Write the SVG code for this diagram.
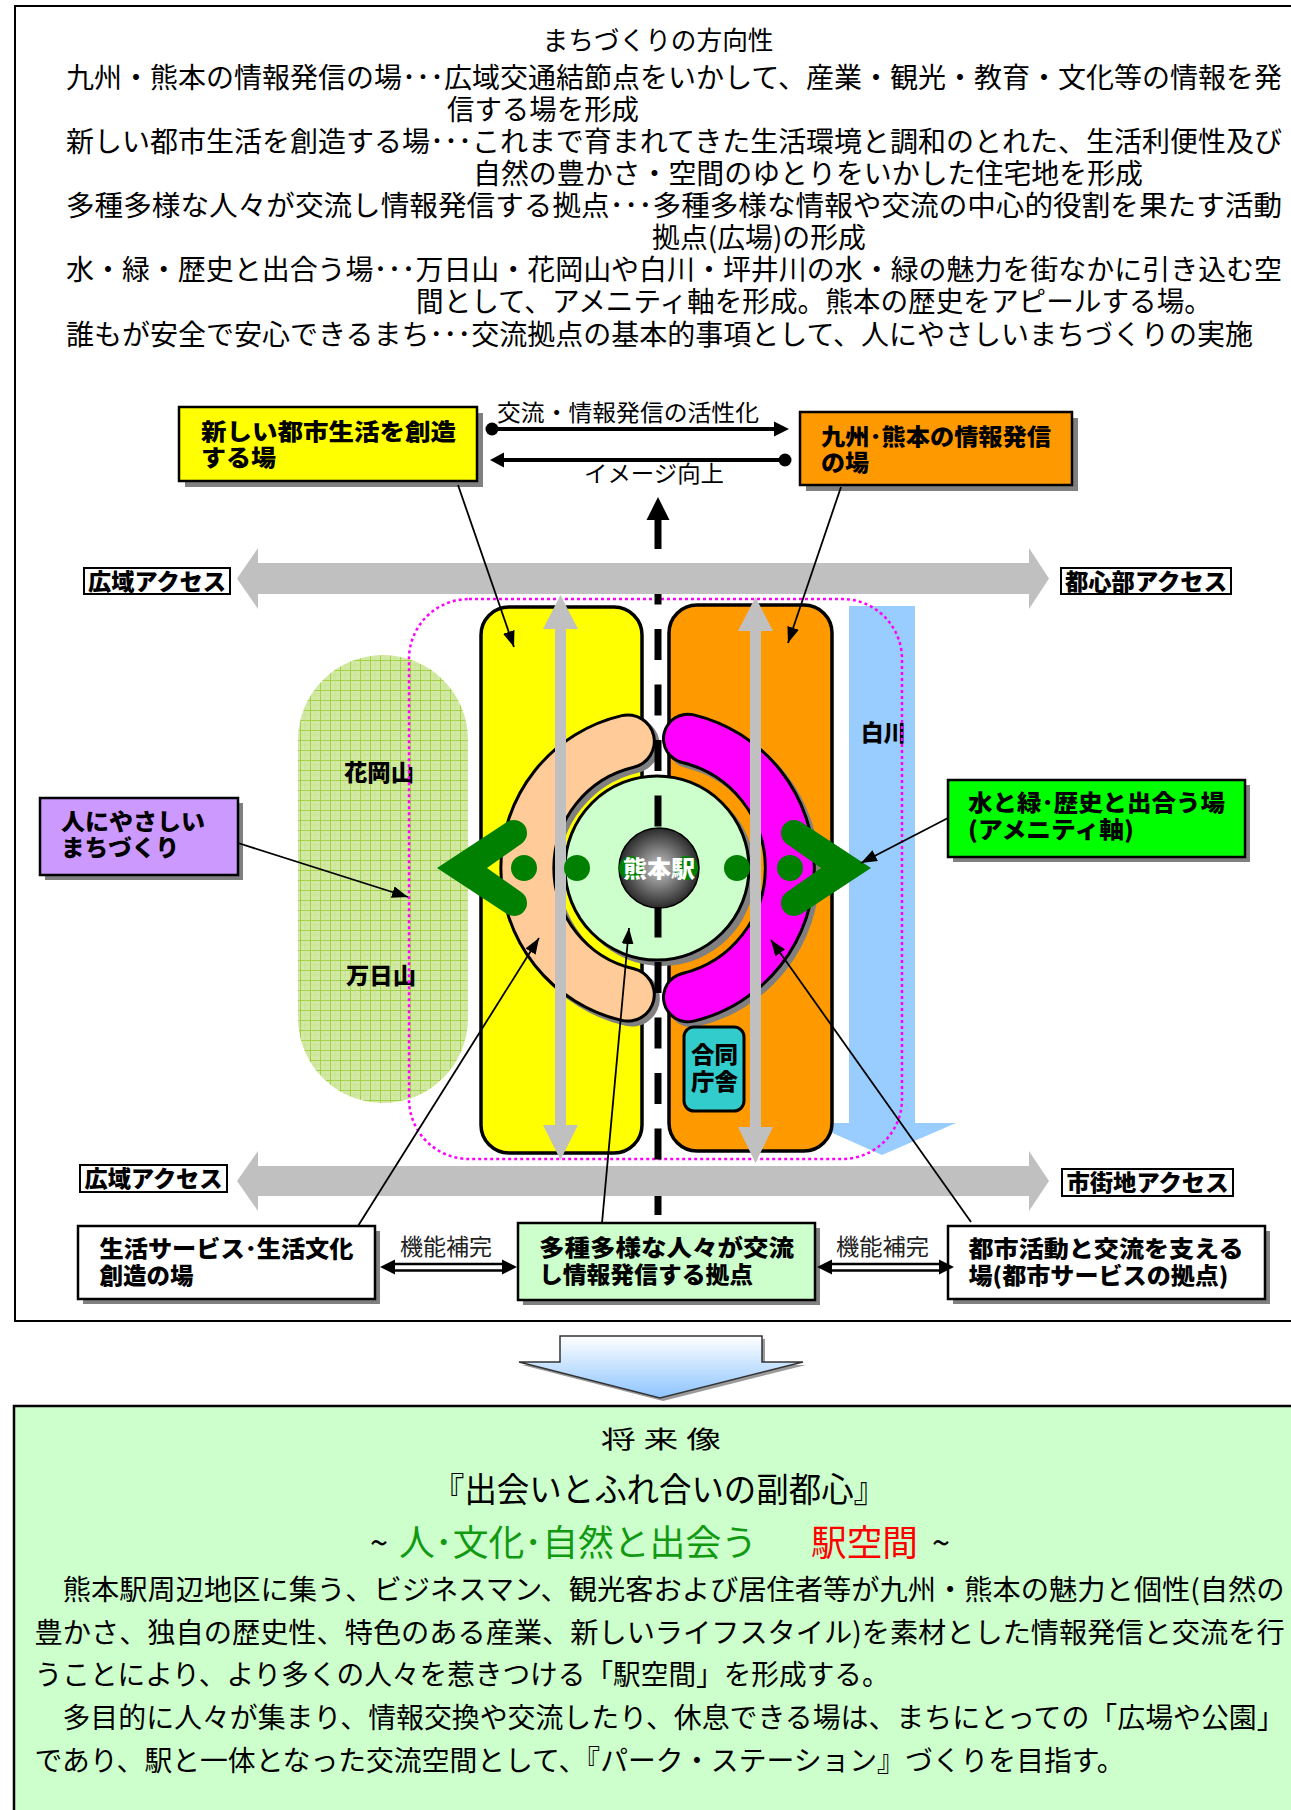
<svg xmlns="http://www.w3.org/2000/svg" width="1291" height="1810" viewBox="0 0 1291 1810">
<defs>
<style>
text{font-family:"Noto Sans CJK JP","Noto Sans CJK SC",sans-serif;fill:#000;}
.p{font-size:28px;}
.b{font-weight:900;font-size:23px;}
.bx{stroke:#000;stroke-width:2.5;}
.sh{fill:#808080;}
.lbl{fill:#fff;stroke:#000;stroke-width:2;}
.cl{stroke:#000;stroke-width:1.8;fill:none;marker-end:url(#ah);}
.sm{font-size:23px;fill:#222;}
</style>
<marker id="ah" markerUnits="userSpaceOnUse" markerWidth="18" markerHeight="14" refX="16" refY="6" orient="auto">
<path d="M0 0L16 6L0 12Z" fill="#000"/>
</marker>
<pattern id="grid" width="10" height="10" patternUnits="userSpaceOnUse">
<rect width="10" height="10" fill="#D3EAA6"/>
<path d="M0 0.5H10M0.5 0V10" stroke="#A3D044" stroke-width="1"/>
<path d="M0 5H10M5 0V10" stroke="#C2E082" stroke-width="0.6"/>
</pattern>
<radialGradient id="ball" cx="50%" cy="50%" r="50%">
<stop offset="0" stop-color="#c8c8c8"/>
<stop offset="1" stop-color="#2a2a2a"/>
</radialGradient>
<linearGradient id="down" x1="0" y1="0" x2="0" y2="1">
<stop offset="0" stop-color="#ffffff"/>
<stop offset="1" stop-color="#8CC4FF"/>
</linearGradient>
</defs>
<rect width="1291" height="1810" fill="#fff"/>

<g id="frame-top">
<rect x="15" y="6" width="1300" height="1315" fill="none" stroke="#000" stroke-width="2"/>
</g>

<g id="direction-text" class="p">
<text x="658" y="50" font-size="26" text-anchor="middle" textLength="231" lengthAdjust="spacingAndGlyphs">まちづくりの方向性</text>
<text x="66" y="88" textLength="1216" lengthAdjust="spacingAndGlyphs">九州・熊本の情報発信の場･･･広域交通結節点をいかして、産業・観光・教育・文化等の情報を発</text>
<text x="447" y="120" textLength="192" lengthAdjust="spacingAndGlyphs">信する場を形成</text>
<text x="66" y="152" textLength="1216" lengthAdjust="spacingAndGlyphs">新しい都市生活を創造する場･･･これまで育まれてきた生活環境と調和のとれた、生活利便性及び</text>
<text x="473" y="184" textLength="670" lengthAdjust="spacingAndGlyphs">自然の豊かさ・空間のゆとりをいかした住宅地を形成</text>
<text x="66" y="216" textLength="1216" lengthAdjust="spacingAndGlyphs">多種多様な人々が交流し情報発信する拠点･･･多種多様な情報や交流の中心的役割を果たす活動</text>
<text x="652" y="248" textLength="214" lengthAdjust="spacingAndGlyphs">拠点(広場)の形成</text>
<text x="66" y="280" textLength="1216" lengthAdjust="spacingAndGlyphs">水・緑・歴史と出合う場･･･万日山・花岡山や白川・坪井川の水・緑の魅力を街なかに引き込む空</text>
<text x="416" y="312" textLength="796" lengthAdjust="spacingAndGlyphs">間として、アメニティ軸を形成。熊本の歴史をアピールする場。</text>
<text x="66" y="345" textLength="1187" lengthAdjust="spacingAndGlyphs">誰もが安全で安心できるまち･･･交流拠点の基本的事項として、人にやさしいまちづくりの実施</text>
</g>

<g id="hills">
<rect x="298" y="655" width="170" height="448" rx="85" fill="url(#grid)"/>
<text class="b" x="344" y="781" textLength="70" lengthAdjust="spacingAndGlyphs">花岡山</text>
<text class="b" x="346" y="984" textLength="70" lengthAdjust="spacingAndGlyphs">万日山</text>
</g>

<g id="shirakawa">
<path d="M849 606H915V1123H956L882 1155L810 1123H849Z" fill="#99CCFF"/>
<text class="b" x="861" y="741" textLength="45" lengthAdjust="spacingAndGlyphs">白川</text>
</g>

<g id="area-dotted">
<rect x="409" y="599" width="493" height="560" rx="60" fill="none" stroke="#FF00FF" stroke-width="2.5" stroke-dasharray="3 3"/>
</g>

<g id="columns">
<rect x="481" y="607" width="161" height="546" rx="28" fill="#FFFF00" stroke="#000" stroke-width="3.5"/>
<rect x="669" y="605" width="163" height="546" rx="28" fill="#FF9900" stroke="#000" stroke-width="3.5"/>
</g>

<g id="rings">
<path d="M627.8 741.4A130 130 0 0 0 627.8 994.6" transform="translate(4 4)" fill="none" stroke="#808080" stroke-width="56" stroke-linecap="round"/>
<path d="M627.8 741.4A130 130 0 0 0 627.8 994.6" fill="none" stroke="#000" stroke-width="56" stroke-linecap="round"/>
<path d="M627.8 741.4A130 130 0 0 0 627.8 994.6" fill="none" stroke="#FFCC99" stroke-width="50" stroke-linecap="round"/>
<path d="M688 738.7A133 133 0 0 1 688 997.3" transform="translate(4 4)" fill="none" stroke="#808080" stroke-width="52" stroke-linecap="round"/>
<path d="M688 738.7A133 133 0 0 1 688 997.3" fill="none" stroke="#000" stroke-width="52" stroke-linecap="round"/>
<path d="M688 738.7A133 133 0 0 1 688 997.3" fill="none" stroke="#FF00FF" stroke-width="46" stroke-linecap="round"/>
</g>

<g id="hub-circle">
<circle cx="662" cy="873" r="93" fill="#808080"/>
<circle cx="657" cy="868" r="92" fill="#CCFFCC" stroke="#000" stroke-width="3"/>
</g>

<g id="rail">
<path d="M658 497L669.5 520H646.5Z" fill="#000"/>
<line x1="658" y1="518" x2="658" y2="1222" stroke="#000" stroke-width="7" stroke-dasharray="31 24.5"/>
</g>

<g id="gray-arrows">
<path d="M560.5 595L578 629H566V1125H578L560.5 1160L543 1125H555V629H543Z" fill="#C0C0C0"/>
<path d="M755.5 597L773 631H761V1127H773L755.5 1163L738 1127H750V631H738Z" fill="#C0C0C0"/>
<path d="M237 578.5L258 548V563H1029V548L1049 578.5L1029 609V594H258V609Z" fill="#C0C0C0"/>
<path d="M237 1181L258 1151V1166H1029V1151L1049 1181L1029 1211V1196H258V1211Z" fill="#C0C0C0"/>
</g>

<g id="station">
<circle cx="659" cy="868" r="40" fill="url(#ball)" stroke="#000" stroke-width="1.5"/>
<g fill="#008000">
<circle cx="524" cy="868" r="13"/>
<circle cx="577" cy="868" r="13"/>
<circle cx="631" cy="868" r="12"/>
<circle cx="686" cy="868" r="12"/>
<circle cx="737" cy="868" r="13"/>
<circle cx="790" cy="868" r="13"/>
<path d="M437 868L507 822L521 844L487 868L521 892L507 914Z"/>
<circle cx="514" cy="833" r="13"/>
<circle cx="514" cy="903" r="13"/>
<path d="M871 868L801 822L787 844L821 868L787 892L801 914Z"/>
<circle cx="794" cy="833" r="13"/>
<circle cx="794" cy="903" r="13"/>
</g>
<text x="659" y="877" text-anchor="middle" font-size="23" font-weight="900" style="fill:#fff" textLength="72" lengthAdjust="spacingAndGlyphs">熊本駅</text>
</g>

<g id="node-godochosha">
<rect x="684" y="1027" width="60" height="84" rx="10" fill="#33CCCC" stroke="#000" stroke-width="3"/>
<text class="b" x="691" y="1063" textLength="47" lengthAdjust="spacingAndGlyphs">合同</text>
<text class="b" x="691" y="1090" textLength="47" lengthAdjust="spacingAndGlyphs">庁舎</text>
</g>

<g id="access-labels">
<rect class="lbl" x="84" y="568" width="146" height="26"/>
<text class="b" x="157" y="590" text-anchor="middle" textLength="138" lengthAdjust="spacingAndGlyphs">広域アクセス</text>
<rect class="lbl" x="1061" y="568" width="170" height="26"/>
<text class="b" x="1146" y="590" text-anchor="middle" textLength="162" lengthAdjust="spacingAndGlyphs">都心部アクセス</text>
<rect class="lbl" x="80" y="1165" width="147" height="27"/>
<text class="b" x="153.5" y="1187" text-anchor="middle" textLength="138" lengthAdjust="spacingAndGlyphs">広域アクセス</text>
<rect class="lbl" x="1062" y="1169" width="171" height="27"/>
<text class="b" x="1147.5" y="1191" text-anchor="middle" textLength="162" lengthAdjust="spacingAndGlyphs">市街地アクセス</text>
</g>

<g id="node-atarashii">
<rect class="sh" x="185" y="413" width="298" height="74"/>
<rect class="bx" x="179" y="407" width="298" height="74" fill="#FFFF00"/>
<text class="b" x="201" y="440" font-size="24" textLength="255" lengthAdjust="spacingAndGlyphs">新しい都市生活を創造</text>
<text class="b" x="201" y="466" font-size="24" textLength="75" lengthAdjust="spacingAndGlyphs">する場</text>
</g>

<g id="node-kyushu">
<rect class="sh" x="806" y="418" width="272" height="73"/>
<rect class="bx" x="800" y="412" width="272" height="73" fill="#FF9900"/>
<text class="b" x="821" y="445" font-size="24" textLength="230" lengthAdjust="spacingAndGlyphs">九州･熊本の情報発信</text>
<text class="b" x="821" y="471" font-size="24" textLength="48" lengthAdjust="spacingAndGlyphs">の場</text>
</g>

<g id="node-hitoni">
<rect class="sh" x="45" y="803" width="198" height="77"/>
<rect class="bx" x="40" y="798" width="198" height="77" fill="#CC99FF"/>
<text class="b" x="61" y="830" textLength="144" lengthAdjust="spacingAndGlyphs">人にやさしい</text>
<text class="b" x="61" y="856" textLength="118" lengthAdjust="spacingAndGlyphs">まちづくり</text>
</g>

<g id="node-mizu">
<rect class="sh" x="953" y="785" width="297" height="77"/>
<rect class="bx" x="948" y="780" width="297" height="77" fill="#00FF00"/>
<text class="b" x="968" y="811" textLength="257" lengthAdjust="spacingAndGlyphs">水と緑･歴史と出合う場</text>
<text class="b" x="968" y="838" textLength="166" lengthAdjust="spacingAndGlyphs">(アメニティ軸)</text>
</g>

<g id="node-seikatsu">
<rect class="sh" x="83" y="1231" width="297" height="73"/>
<rect class="bx" x="78" y="1226" width="297" height="73" fill="#fff"/>
<text class="b" x="99.5" y="1257" textLength="254" lengthAdjust="spacingAndGlyphs">生活サービス･生活文化</text>
<text class="b" x="99.5" y="1284" textLength="94" lengthAdjust="spacingAndGlyphs">創造の場</text>
</g>

<g id="node-tashu">
<rect class="sh" x="523" y="1228" width="297" height="77"/>
<rect class="bx" x="518" y="1223" width="297" height="77" fill="#CCFFCC"/>
<text class="b" x="539" y="1256" textLength="255" lengthAdjust="spacingAndGlyphs">多種多様な人々が交流</text>
<text class="b" x="539" y="1283" textLength="214" lengthAdjust="spacingAndGlyphs">し情報発信する拠点</text>
</g>

<g id="node-toshi">
<rect class="sh" x="953" y="1231" width="317" height="73"/>
<rect class="bx" x="948" y="1226" width="317" height="73" fill="#fff"/>
<text class="b" x="968.5" y="1257" textLength="275" lengthAdjust="spacingAndGlyphs">都市活動と交流を支える</text>
<text class="b" x="968.5" y="1284" textLength="260" lengthAdjust="spacingAndGlyphs">場(都市サービスの拠点)</text>
</g>

<g id="connectors">
<circle cx="492" cy="429" r="6.5" fill="#000"/>
<line x1="492" y1="429" x2="776" y2="429" stroke="#000" stroke-width="4"/>
<path d="M774 421.5L789 429L774 436.5Z" fill="#000"/>
<path d="M504 452.5L490 460L504 467.5Z" fill="#000"/>
<line x1="502" y1="460" x2="785" y2="460" stroke="#000" stroke-width="4"/>
<circle cx="785" cy="460" r="6.5" fill="#000"/>
<text x="497" y="421" font-size="23" textLength="262" lengthAdjust="spacingAndGlyphs">交流・情報発信の活性化</text>
<text x="584" y="482" font-size="23" textLength="140" lengthAdjust="spacingAndGlyphs">イメージ向上</text>

<line class="cl" x1="458" y1="485" x2="514" y2="647"/>
<line class="cl" x1="841" y1="487" x2="788" y2="643"/>
<line class="cl" x1="238" y1="843" x2="408" y2="897"/>
<line class="cl" x1="948" y1="818" x2="861" y2="863"/>
<line class="cl" x1="358" y1="1226" x2="539" y2="938"/>
<line class="cl" x1="602" y1="1223" x2="629" y2="928"/>
<line class="cl" x1="971" y1="1222" x2="771" y2="940"/>

<g id="double-arrow-left">
<line x1="392" y1="1264" x2="505" y2="1264" stroke="#000" stroke-width="2.5"/>
<line x1="392" y1="1270.5" x2="505" y2="1270.5" stroke="#000" stroke-width="2.5"/>
<path d="M380 1267L395 1259.5V1274.5Z" fill="#000"/>
<path d="M517 1267L502 1259.5V1274.5Z" fill="#000"/>
<text class="sm" x="400" y="1255" textLength="92" lengthAdjust="spacingAndGlyphs">機能補完</text>
</g>
<g id="double-arrow-right">
<line x1="829" y1="1264" x2="942" y2="1264" stroke="#000" stroke-width="2.5"/>
<line x1="829" y1="1270.5" x2="942" y2="1270.5" stroke="#000" stroke-width="2.5"/>
<path d="M817 1267L832 1259.5V1274.5Z" fill="#000"/>
<path d="M954 1267L939 1259.5V1274.5Z" fill="#000"/>
<text class="sm" x="836" y="1255" textLength="93" lengthAdjust="spacingAndGlyphs">機能補完</text>
</g>
</g>

<g id="down-arrow">
<path d="M563 1339H765V1365H806L663 1401L522 1365H563Z" fill="#9a9a9a"/>
<path d="M560 1336H762V1362H803L660 1398L519 1362H560Z" fill="url(#down)" stroke="#333" stroke-width="1.5"/>
</g>

<g id="future-box">
<rect x="14" y="1406" width="1300" height="420" fill="#CCFFCC" stroke="#000" stroke-width="2.5"/>
<text x="661" y="1448" font-size="24" text-anchor="middle" textLength="120" lengthAdjust="spacingAndGlyphs">将 来 像</text>
<text x="659" y="1502" font-size="34" text-anchor="middle" textLength="454" lengthAdjust="spacingAndGlyphs">『出会いとふれ合いの副都心』</text>
<text y="1556" font-size="36"><tspan x="370" textLength="18" lengthAdjust="spacingAndGlyphs">~</tspan><tspan x="399" style="fill:#119911" textLength="358" lengthAdjust="spacingAndGlyphs">人･文化･自然と出会う</tspan><tspan x="811" style="fill:#FF0000" textLength="107" lengthAdjust="spacingAndGlyphs">駅空間</tspan><tspan x="932" textLength="18" lengthAdjust="spacingAndGlyphs">~</tspan></text>
<g class="p">
<text x="34.6" y="1600" textLength="1250" lengthAdjust="spacingAndGlyphs">　熊本駅周辺地区に集う、ビジネスマン、観光客および居住者等が九州・熊本の魅力と個性(自然の</text>
<text x="34.6" y="1643" textLength="1250" lengthAdjust="spacingAndGlyphs">豊かさ、独自の歴史性、特色のある産業、新しいライフスタイル)を素材とした情報発信と交流を行</text>
<text x="34.6" y="1685" textLength="855" lengthAdjust="spacingAndGlyphs">うことにより、より多くの人々を惹きつける「駅空間」を形成する。</text>
<text x="34.6" y="1728" textLength="1250" lengthAdjust="spacingAndGlyphs">　多目的に人々が集まり、情報交換や交流したり、休息できる場は、まちにとっての「広場や公園」</text>
<text x="34.6" y="1771" textLength="1090" lengthAdjust="spacingAndGlyphs">であり、駅と一体となった交流空間として、『パーク・ステーション』づくりを目指す。</text>
</g>
</g>
</svg>
